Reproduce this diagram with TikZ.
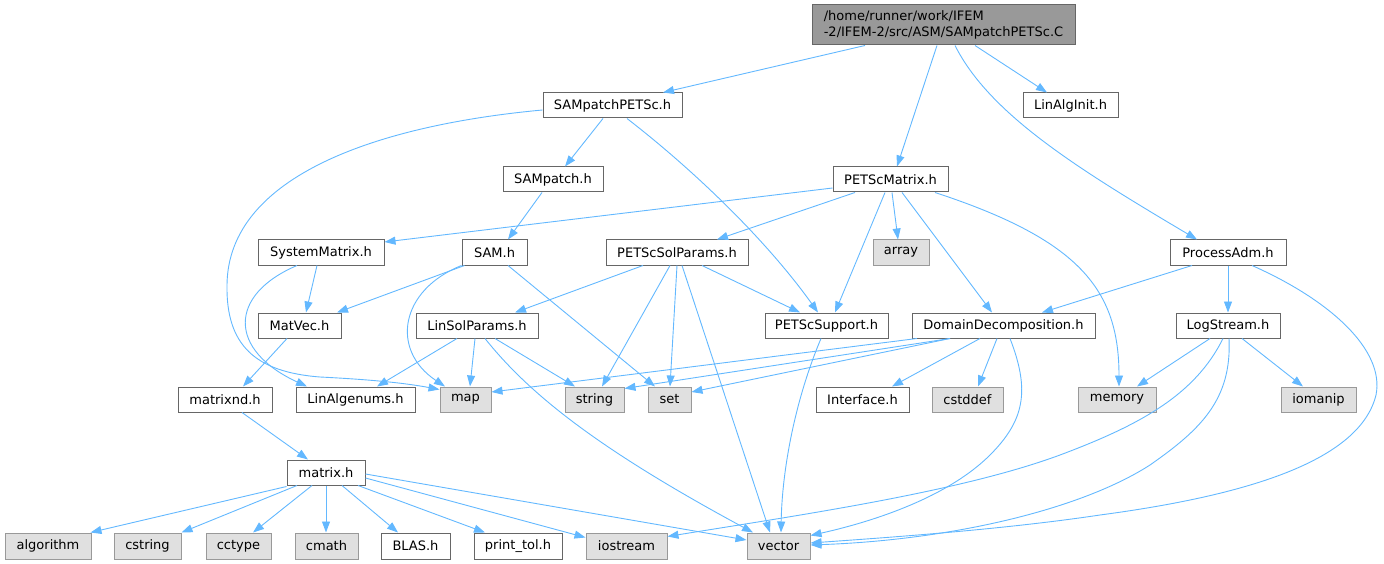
\documentclass[tikz,border=0pt]{standalone}
\usepackage{fontspec}
\setmainfont{DejaVu Sans}
\usetikzlibrary{arrows.meta}
\definecolor{edgeblue}{RGB}{99,184,255}
\definecolor{wborder}{RGB}{102,102,102}
\definecolor{gborder}{RGB}{153,153,153}
\definecolor{gfill}{RGB}{224,224,224}
\definecolor{rootfill}{RGB}{153,153,153}
\tikzset{
  file/.style={draw=wborder, fill=white, line width=1pt, minimum height=25pt, inner sep=0pt, font=\fontsize{13}{16}\selectfont, text=black},
  sys/.style={file, draw=gborder, fill=gfill, minimum height=26pt},
  rootbox/.style={file, fill=rootfill, minimum height=40pt, align=left},
  dep/.style={draw=edgeblue, line width=0.9pt, -{Triangle[length=11pt,width=8pt]}, fill=none},
}
\begin{document}
\begin{tikzpicture}[x=1pt,y=-1pt]
\useasboundingbox (0,0) rectangle (1384,564);
% nodes
\node[rootbox, minimum width=263pt] (root) at (943.5,25) {/home/runner/work/IFEM\\-2/IFEM-2/src/ASM/SAMpatchPETSc.C};
\node[file, minimum width=139pt] (sp) at (612.5,105.5) {SAMpatchPETSc.h};
\node[file, minimum width=95pt] (lai) at (1070.5,105.5) {LinAlgInit.h};
\node[file, minimum width=100pt] (sa) at (553,179.5) {SAMpatch.h};
\node[file, minimum width=115pt] (pm) at (890.5,179.5) {PETScMatrix.h};
\node[file, minimum width=126pt] (sm) at (321,252.5) {SystemMatrix.h};
\node[file, minimum width=65pt] (sam) at (494.5,252.5) {SAM.h};
\node[file, minimum width=142pt] (psp) at (677,252.5) {PETScSolParams.h};
\node[sys, minimum width=56pt, minimum height=25pt] (narray) at (901,252.5) {array};
\node[file, minimum width=116pt] (pa) at (1228,252.5) {ProcessAdm.h};
\node[file, minimum width=83pt] (mv) at (299.5,325.5) {MatVec.h};
\node[file, minimum width=122pt] (lsp) at (477,325.5) {LinSolParams.h};
\node[file, minimum width=123pt] (ps) at (826.5,325.5) {PETScSupport.h};
\node[file, minimum width=183pt] (dd) at (1003.5,325.5) {DomainDecomposition.h};
\node[file, minimum width=104pt] (ls) at (1228,325.5) {LogStream.h};
\node[file, minimum width=94pt] (mnd) at (225,399.5) {matrixnd.h};
\node[file, minimum width=119pt] (lae) at (355.5,399.5) {LinAlgenums.h};
\node[sys, minimum width=51pt, minimum height=25pt] (nmap) at (465.5,399.5) {map};
\node[sys, minimum width=59pt, minimum height=25pt] (nstring) at (594.5,399.5) {string};
\node[sys, minimum width=43pt, minimum height=25pt] (nset) at (669.5,399.5) {set};
\node[file, minimum width=93pt] (itf) at (862.5,399.5) {Interface.h};
\node[sys, minimum width=71pt, minimum height=25pt] (ncstddef) at (967.5,399.5) {cstddef};
\node[sys, minimum width=78pt, minimum height=25pt] (nmemory) at (1117,399.5) {memory};
\node[sys, minimum width=75pt, minimum height=25pt] (niomanip) at (1318.5,399.5) {iomanip};
\node[file, minimum width=78pt] (mx) at (326,472.5) {matrix.h};
\node[sys, minimum width=86pt] (nalgorithm) at (48,546) {algorithm};
\node[sys, minimum width=67pt] (ncstring) at (147.5,546) {cstring};
\node[sys, minimum width=65pt] (ncctype) at (238.5,546) {cctype};
\node[sys, minimum width=63pt] (ncmath) at (326.5,546) {cmath};
\node[file, minimum width=69pt, minimum height=26pt] (blas) at (415.5,546) {BLAS.h};
\node[file, minimum width=88pt, minimum height=26pt] (ptol) at (518,546) {print\_tol.h};
\node[sys, minimum width=81pt] (nios) at (626.5,546) {iostream};
\node[sys, minimum width=63pt] (nvec) at (778.5,546) {vector};
% edges from root
\draw[dep] ([xshift=-78.5]root.south) -- ([xshift=50.5]sp.north);
\draw[dep] ([xshift=-6.5]root.south) -- ([xshift=6.5]pm.north);
\draw[dep] ([xshift=31.5]root.south) -- ([xshift=-23.5]lai.north);
\draw[dep] ([xshift=11.5]root.south) .. controls (990,115) and (1080,170) .. ([xshift=-31]pa.north);
% SAMpatchPETSc.h
\draw[dep] ([yshift=-4.5]sp.west) .. controls (380,125) and (228,175) .. (227,285) .. controls (226,345) and (255,372) .. (320,377) .. controls (380,380) and (410,384) .. ([yshift=-3]nmap.north west);
\draw[dep] ([xshift=-9.5]sp.south) -- ([xshift=12]sa.north);
\draw[dep] ([xshift=14.5]sp.south) .. controls (700,175) and (770,245) .. ([xshift=-8.5]ps.north);
% SAMpatch.h
\draw[dep] ([xshift=-11]sa.south) -- ([xshift=13.5]sam.north);
% PETScMatrix.h
\draw[dep] ([yshift=-8.5]pm.west) -- ([yshift=10.5]sm.east);
\draw[dep] ([xshift=-35.5]pm.south) -- ([xshift=40]psp.north);
\draw[dep] ([xshift=1.5]pm.south) -- ([xshift=-3]narray.north);
\draw[dep] ([xshift=-5.5]pm.south) -- ([xshift=8.5]ps.north);
\draw[dep] ([xshift=11.5]pm.south) -- ([xshift=-11.5]dd.north);
\draw[dep] ([xshift=44.5]pm.south) .. controls (1080,240) and (1119,290) .. ([xshift=2]nmemory.north);
% SystemMatrix.h
\draw[dep] ([xshift=-4]sm.south) -- ([xshift=6.5]mv.north);
\draw[dep] ([xshift=-24]sm.south) .. controls (228,295) and (228,350) .. ([xshift=-48.5]lae.north);
% SAM.h
\draw[dep] ([xshift=3]sam.south west) -- ([xshift=37.5]mv.north);
\draw[dep] (sam.south west) .. controls (400,290) and (390,350) .. ([xshift=-20.5]nmap.north);
\draw[dep] ([xshift=13.5]sam.south) -- ([xshift=-14.5]nset.north);
% PETScSolParams.h
\draw[dep] ([xshift=-34]psp.south) -- ([xshift=38]lsp.north);
\draw[dep] ([xshift=-7]psp.south) -- ([xshift=7.5]nstring.north);
\draw[dep] (psp.south) -- ([xshift=0.5]nset.north);
\draw[dep] ([xshift=5]psp.south) -- ([xshift=-8.5]nvec.north);
\draw[dep] ([xshift=25]psp.south) -- ([xshift=-26.5]ps.north);
% ProcessAdm.h
\draw[dep] ([xshift=-36]pa.south) -- ([xshift=38.5]dd.north);
\draw[dep] (pa.south) -- (ls.north);
\draw[dep] ([xshift=24]pa.south) .. controls (1330,300) and (1385,350) .. (1376,395) .. controls (1360,460) and (1250,495) .. (1100,515) .. controls (1000,530) and (880,538) .. ([yshift=3]nvec.east);
% LogStream.h
\draw[dep] ([xshift=-18]ls.south) -- ([xshift=20]nmemory.north);
\draw[dep] ([xshift=14]ls.south) -- ([xshift=-15.5]niomanip.north);
\draw[dep] ([xshift=-5]ls.south) .. controls (1195,395) and (1140,425) .. (1060,455) .. controls (960,492) and (800,515) .. ([yshift=-4]nios.north east);
\draw[dep] ([xshift=1]ls.south) .. controls (1232,400) and (1200,430) .. (1150,465) .. controls (1080,510) and (950,540) .. ([yshift=1]nvec.east);
% DomainDecomposition.h
\draw[dep] ([xshift=-86.5]dd.south) -- ([yshift=7.5]nmap.east);
\draw[dep] ([xshift=-53.5]dd.south) -- ([yshift=-2]nstring.north east);
\draw[dep] ([xshift=-53.5]dd.south) -- ([yshift=7.5]nset.east);
\draw[dep] ([xshift=-23.5]dd.south) -- ([xshift=29.5]itf.north);
\draw[dep] ([xshift=-6.5]dd.south) -- ([xshift=10.5]ncstddef.north);
\draw[dep] ([xshift=6.5]dd.south) .. controls (1030,390) and (1025,420) .. (990,455) .. controls (950,495) and (880,520) .. ([yshift=-3]nvec.north east);
% MatVec.h, LinSolParams.h, PETScSupport.h
\draw[dep] ([xshift=-12.5]mv.south) -- ([xshift=18]mnd.north);
\draw[dep] ([xshift=-20]lsp.south) -- ([xshift=21.5]lae.north);
\draw[dep] ([xshift=-2]lsp.south) -- ([xshift=4.5]nmap.north);
\draw[dep] ([xshift=18]lsp.south) -- ([xshift=-19.5]nstring.north);
\draw[dep] ([xshift=8]lsp.south) .. controls (530,395) and (600,450) .. ([xshift=-25.5]nvec.north);
\draw[dep] ([xshift=-5.5]ps.south) .. controls (795,400) and (782,470) .. ([xshift=2.5]nvec.north);
% matrixnd.h
\draw[dep] ([xshift=17]mnd.south) -- ([xshift=-18]mx.north);
% matrix.h
\draw[dep] ([yshift=-1]mx.south west) -- ([xshift=-1]nalgorithm.north east);
\draw[dep] ([xshift=-29]mx.south) -- (ncstring.north east);
\draw[dep] ([xshift=-14]mx.south) -- ([xshift=14.5]ncctype.north);
\draw[dep] (mx.south) -- ([xshift=-0.5]ncmath.north);
\draw[dep] ([xshift=16]mx.south) -- ([xshift=-17.5]blas.north);
\draw[dep] ([xshift=32]mx.south) -- ([xshift=-33]ptol.north);
\draw[dep] ([yshift=-5.5]mx.east) -- ([yshift=-5]nios.north west);
\draw[dep] ([yshift=-1.5]mx.east) -- ([yshift=6]nvec.west);
\end{tikzpicture}
\end{document}
